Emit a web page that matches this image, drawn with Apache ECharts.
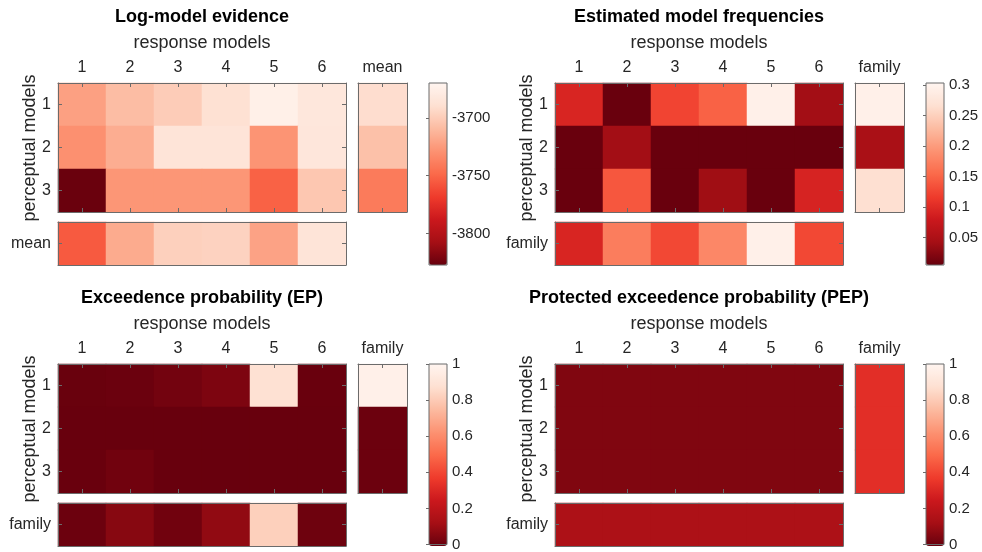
<!DOCTYPE html>
<html><head><meta charset="utf-8">
<script src="https://cdn.jsdelivr.net/npm/echarts@6/dist/echarts.min.js"></script>
<style>html,body{margin:0;padding:0;background:#fff}#c{width:982px;height:552px}</style>
</head><body><div id="c"></div>
<script>
// ---------- data ----------
const responseModels = ['1','2','3','4','5','6'];
const perceptualModels = ['1','2','3'];
const panelTitles = ['Log-model evidence','Estimated model frequencies','Exceedence probability (EP)','Protected exceedence probability (PEP)'];
const summaryLabels = ['mean','family','family','family'];
const xAxisName = 'response models';
const yAxisName = 'perceptual models';

// Log-model evidence
const lmeMatrix = [
  [-3722,-3708,-3700,-3689,-3675,-3683],
  [-3730,-3716,-3686,-3686,-3728,-3684],
  [-3826,-3727,-3727,-3727,-3752,-3703]
];
const lmeMeanCol = [-3691,-3706,-3740];
const lmeMeanRow = [-3755,-3717,-3698,-3697,-3721,-3686];
const lmeRange = [-3827,-3670];
const lmeTicks = [-3800,-3750,-3700];

// Estimated model frequencies
const freqMatrix = [
  [0.093,0.006,0.124,0.148,0.294,0.041],
  [0.006,0.041,0.006,0.006,0.006,0.006],
  [0.006,0.139,0.006,0.039,0.006,0.091]
];
const freqFamilyCol = [0.294,0.047,0.266];
const freqFamilyRow = [0.093,0.172,0.127,0.181,0.294,0.127];
const freqRange = [0.005,0.303];
const freqTicks = [0.05,0.1,0.15,0.2,0.25,0.3];

// Exceedence probability
const epMatrix = [
  [0.005,0.008,0.025,0.045,0.88,0.004],
  [0.003,0.003,0.003,0.003,0.003,0.003],
  [0.004,0.02,0.003,0.003,0.003,0.003]
];
const epFamilyCol = [0.97,0.01,0.01];
const epFamilyRow = [0.01,0.065,0.02,0.085,0.82,0.015];
const epRange = [0,1];
const epTicks = [0,0.2,0.4,0.6,0.8,1];

// Protected exceedence probability
const pepMatrix = [
  [0.05,0.05,0.05,0.05,0.05,0.05],
  [0.05,0.05,0.05,0.05,0.05,0.05],
  [0.05,0.05,0.05,0.05,0.05,0.05]
];
const pepFamilyCol = [0.33,0.33,0.33];
const pepFamilyRow = [0.15,0.15,0.15,0.15,0.15,0.15];
const pepRange = [0,1];
const pepTicks = [0,0.2,0.4,0.6,0.8,1];

const REDS = ['#67000d','#a50f15','#cb181d','#ef3b2c','#fb6a4a','#fc9272','#fcbba1','#fee0d2','#fff5f0'];

// ---------- layout ----------
const AX = '#6b6b6b', TX = '#262626';
const FONT = '"Liberation Sans", Arial, Helvetica, sans-serif';
const panels = [
  {ox:0,   oy:0,   m:lmeMatrix,  col:lmeMeanCol,    row:lmeMeanRow,    range:lmeRange,  ticks:lmeTicks},
  {ox:497, oy:0,   m:freqMatrix, col:freqFamilyCol, row:freqFamilyRow, range:freqRange, ticks:freqTicks},
  {ox:0,   oy:281, m:epMatrix,   col:epFamilyCol,   row:epFamilyRow,   range:epRange,   ticks:epTicks},
  {ox:497, oy:281, m:pepMatrix,  col:pepFamilyCol,  row:pepFamilyRow,  range:pepRange,  ticks:pepTicks}
];

const grids = [], xAxes = [], yAxes = [], series = [], visualMaps = [], graphics = [];

function tick(show){ return {show, inside:true, length:4, alignWithLabel:true, lineStyle:{color:AX, width:1}}; }
const axLine = {show:true, onZero:false, lineStyle:{color:AX, width:1}};
const lab = (show) => ({show, color:TX, fontSize:16, fontFamily:FONT, margin:7});

function heatGrid(rect, xc, yc, xTicks, yTicks, xLab, yLab, data){
  const gi = grids.length;
  grids.push({left:rect[0], top:rect[1], width:rect[2], height:rect[3]});
  const xi = xAxes.length;
  xAxes.push({type:'category', gridIndex:gi, position:'top', data:xc, axisLine:axLine, axisTick:tick(xTicks), axisLabel:lab(xLab), splitLine:{show:false}, z:10});
  xAxes.push({type:'category', gridIndex:gi, position:'bottom', data:xc, axisLine:axLine, axisTick:tick(xTicks), axisLabel:{show:false}, splitLine:{show:false}, z:10});
  const yi = yAxes.length;
  yAxes.push({type:'category', gridIndex:gi, position:'left', inverse:true, data:yc, axisLine:axLine, axisTick:tick(yTicks), axisLabel:lab(yLab), splitLine:{show:false}, z:10});
  yAxes.push({type:'category', gridIndex:gi, position:'right', inverse:true, data:yc, axisLine:axLine, axisTick:tick(yTicks), axisLabel:{show:false}, splitLine:{show:false}, z:10});
  series.push({type:'heatmap', xAxisIndex:xi, yAxisIndex:yi, data, emphasis:{disabled:true}, itemStyle:{borderWidth:0}, silent:true});
  return series.length - 1;
}

panels.forEach((p, k) => {
  const {ox, oy} = p;
  const sIdx = [];
  const mainData = [];
  p.m.forEach((r, yi) => r.forEach((v, xi) => mainData.push([xi, yi, v])));
  sIdx.push(heatGrid([58+ox, 83+oy, 288, 129], responseModels, perceptualModels, true, true, true, true, mainData));
  const colData = p.col.map((v, yi) => [0, yi, v]);
  sIdx.push(heatGrid([358+ox, 83+oy, 49, 129], [summaryLabels[k]], perceptualModels, true, false, true, false, colData));
  const rowData = p.row.map((v, xi) => [xi, 0, v]);
  sIdx.push(heatGrid([58+ox, 222+oy, 288, 43], responseModels, [summaryLabels[k]], false, true, false, true, rowData));

  visualMaps.push({type:'continuous', min:p.range[0], max:p.range[1], seriesIndex:sIdx, show:true,
    calculable:false, orient:'vertical', left:429+ox, top:83+oy, itemWidth:18, itemHeight:182,
    padding:0, text:null, hoverLink:false, inRange:{color:REDS}, z:4});

  const gi = grids.length;
  grids.push({left:429+ox, top:83+oy, width:18, height:182, show:true, borderColor:AX, borderWidth:1, backgroundColor:'transparent', z:10});
  xAxes.push({type:'value', gridIndex:gi, show:false, min:0, max:1});
  yAxes.push({type:'value', gridIndex:gi, position:'right', min:p.range[0], max:p.range[1],
    axisLine:{show:false}, splitLine:{show:false},
    axisTick:{show:true, inside:true, length:3, customValues:p.ticks, lineStyle:{color:AX}},
    axisLabel:{show:true, customValues:p.ticks, color:TX, fontSize:15, fontFamily:FONT, margin:5,
      formatter: v => String(+v.toFixed(4))}, z:10});

  const cx = 202 + ox;
  graphics.push({type:'text', x:cx, y:17+oy, silent:true, style:{text:panelTitles[k], font:'bold 18px '+FONT, fill:'#000',
    textAlign:'center', textVerticalAlign:'middle', align:'center', verticalAlign:'middle'}});
  graphics.push({type:'text', x:cx, y:43+oy, silent:true, style:{text:xAxisName, font:'18px '+FONT, fill:TX,
    textAlign:'center', textVerticalAlign:'middle', align:'center', verticalAlign:'middle'}});
  graphics.push({type:'text', x:30+ox, y:148+oy, rotation:Math.PI/2, silent:true, style:{text:yAxisName, font:'18px '+FONT, fill:TX,
    textAlign:'center', textVerticalAlign:'middle', align:'center', verticalAlign:'middle'}});
});

const chart = echarts.init(document.getElementById('c'), null, {renderer:'canvas'});
chart.setOption({
  animation:false,
  backgroundColor:'#fff',
  textStyle:{fontFamily:FONT},
  grid:grids, xAxis:xAxes, yAxis:yAxes, visualMap:visualMaps, series, graphic:graphics
});
</script></body></html>
